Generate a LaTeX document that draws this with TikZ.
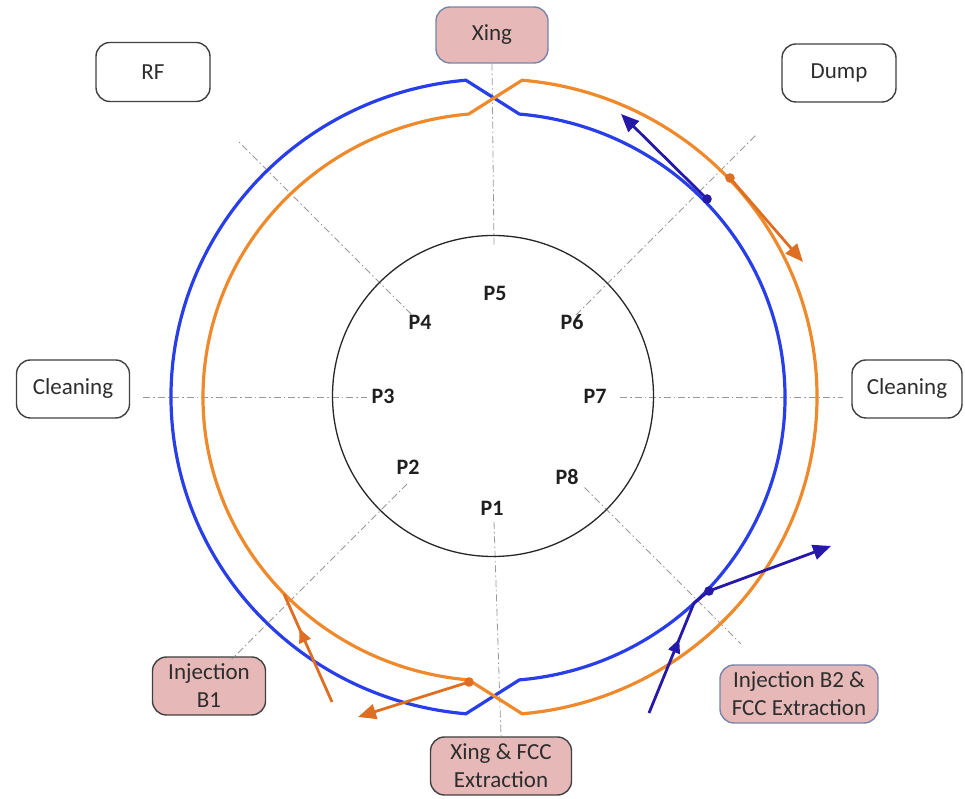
\documentclass[tikz,border=0pt]{standalone}
\usepackage{fontspec}
\setmainfont{Carlito}
\usetikzlibrary{arrows.meta,calc,decorations.markings}
\definecolor{ringblue}{RGB}{40,62,232}
\definecolor{ringorange}{RGB}{238,138,44}
\definecolor{arrblue}{RGB}{38,24,168}
\definecolor{arrorange}{RGB}{222,110,34}
\definecolor{boxpink}{RGB}{230,185,184}
\definecolor{boxgray}{RGB}{64,64,64}
\definecolor{boxbluegray}{RGB}{120,132,170}
\definecolor{textgray}{RGB}{45,45,45}
\begin{document}
\begin{tikzpicture}[x=1pt,y=1pt,
  box/.style={draw=boxgray, line width=1.4pt, rounded corners=14pt, fill=white,
    align=center, text=textgray, font=\fontsize{23}{28}\selectfont, inner sep=0pt},
  pinkbox/.style={box, fill=boxpink},
  plabel/.style={font=\fontsize{22}{24}\selectfont\bfseries, text=black!88, inner sep=0pt},
  guide/.style={draw=gray!80, line width=0.8pt, dash pattern=on 7pt off 3pt on 1.5pt off 3pt},
  ringB/.style={draw=ringblue, line width=3.2pt},
  ringO/.style={draw=ringorange, line width=3.2pt},
  barrow/.style={draw=arrblue, line width=2.8pt},
  oarrow/.style={draw=arrorange, line width=2.8pt},
  bigtip/.style={-{Triangle[length=18pt,width=15pt]}},
  midtip/.style={postaction={decorate}, decoration={markings,
    mark=at position #1 with {\arrow{Triangle[length=14pt,width=12pt]}}}}
]
\useasboundingbox (0,0) rectangle (965,799);
\coordinate (C) at (494,402);

% guide lines
\coordinate (gT) at ($(C)+(90:150)$);
\coordinate (gB) at ($(C)+(270:125)$);
\coordinate (gL1) at ($(C)+(180:351)$);
\coordinate (gL2) at ($(C)+(180:127)$);
\coordinate (gR1) at ($(C)+(0:126)$);
\coordinate (gR2) at ($(C)+(0:349)$);
\coordinate (gNW1) at ($(C)+(135:117)$);
\coordinate (gNW2) at ($(C)+(135:363)$);
\coordinate (gNE1) at ($(C)+(45:116)$);
\coordinate (gNE2) at ($(C)+(45:372)$);
\coordinate (gSW1) at ($(C)+(225:123)$);
\coordinate (gSW2) at ($(C)+(225:371)$);
\coordinate (gSE1) at ($(C)+(315:128)$);
\coordinate (gSE2) at ($(C)+(315:349)$);

% boxes
\node[pinkbox, draw=boxbluegray, minimum width=112pt, minimum height=56pt] (xing) at (492,764) {Xing};
\node[pinkbox, minimum width=141pt, minimum height=58pt] (xingfcc) at (501,33) {Xing \& FCC\\Extraction};
\node[pinkbox, minimum width=113pt, minimum height=58pt] (injb1) at (209,113) {Injection\\B1};
\node[pinkbox, draw=boxbluegray, minimum width=158pt, minimum height=58pt] (injb2) at (799,105) {Injection B2 \&\\FCC Extraction};
\node[box, minimum width=114pt, minimum height=59pt] (rf) at (153,727) {RF};
\node[box, minimum width=114pt, minimum height=58pt] (dump) at (839,726) {Dump};
\node[box, minimum width=113pt, minimum height=58pt] (cleanL) at (73,410) {Cleaning};
\node[box, minimum width=110pt, minimum height=58pt] (cleanR) at (907,410) {Cleaning};

\draw[guide] (xing.south) -- (gT);
\draw[guide] (gB) -- (xingfcc.north);
\draw[guide] (gL1) -- (gL2);
\draw[guide] (gR1) -- (gR2);
\draw[guide] (gNW1) -- (gNW2);
\draw[guide] (gNE1) -- (gNE2);
\draw[guide] (gSW1) -- (gSW2);
\draw[guide] (gSE1) -- (gSE2);

% inner circle
\node[draw=black!85, line width=1.3pt, circle, minimum size=321pt, inner sep=0pt] (inner) at (493,403) {};

% P labels
\node[plabel] (p1) at (492,291) {P1};
\node[plabel] (p2) at (408,332) {P2};
\node[plabel] (p3) at (383,403) {P3};
\node[plabel] (p4) at (420,477) {P4};
\node[plabel] (p5) at (495,506) {P5};
\node[plabel] (p6) at (572,477) {P6};
\node[plabel] (p7) at (595,403) {P7};
\node[plabel] (p8) at (567,322) {P8};

% rings
\draw[ringB] ($(C)+(95:323pt and 318pt)$) arc[start angle=95,end angle=265,x radius=323pt,y radius=318pt]
  -- ($(C)+(275:291pt and 284pt)$) arc[start angle=275,end angle=445,x radius=291pt,y radius=284pt] -- cycle;
\draw[ringO] ($(C)+(85:323pt and 318pt)$) arc[start angle=85,end angle=-85,x radius=323pt,y radius=318pt]
  -- ($(C)+(265:291pt and 284pt)$) arc[start angle=265,end angle=95,x radius=291pt,y radius=284pt] -- cycle;

% arrow coordinates
\coordinate (bdot1) at (707,600);
\coordinate (btip1) at (621,685);
\coordinate (odot1) at (730,621);
\coordinate (otip1) at (803,537);
\coordinate (bin) at (649,86);
\coordinate (bbend) at (694,196);
\coordinate (bdot2) at (709,208);
\coordinate (btip2) at (831,253);
\coordinate (oin) at (332,97);
\coordinate (oend) at (284,205);
\coordinate (odot2) at (469,117);
\coordinate (otip2) at (358,82);

% arrows
\draw[barrow, bigtip] (bdot1) -- (btip1);
\fill[arrblue] (bdot1) circle (4.8pt);
\draw[oarrow, bigtip] (odot1) -- (otip1);
\fill[arrorange] (odot1) circle (4.8pt);

\draw[barrow, line join=round, midtip=0.58] (bin) -- (bbend) -- (bdot2);
\draw[barrow, bigtip] (bdot2) -- (btip2);
\fill[arrblue] (bdot2) circle (4.8pt);

\draw[oarrow, midtip=0.68] (oin) -- (oend);
\draw[oarrow, bigtip] (odot2) -- (otip2);
\fill[arrorange] (odot2) circle (4.8pt);
\end{tikzpicture}
\end{document}
